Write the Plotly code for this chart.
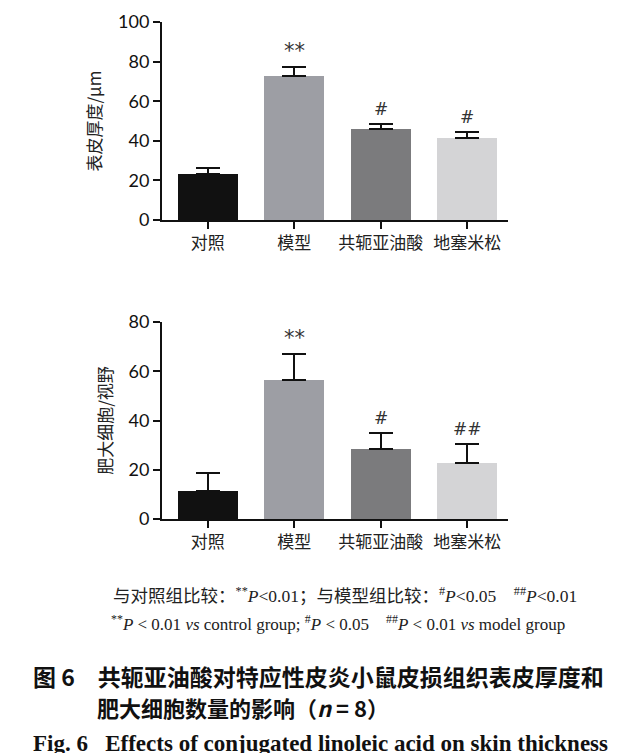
import plotly.graph_objects as go

# données
groupes = ["对照", "模型", "共轭亚油酸", "地塞米松"]
couleurs = ["#111111", "#9d9ea4", "#7b7b7d", "#d4d4d6"]

epaisseur = [23.2, 72.9, 45.8, 41.3]
epaisseur_sd = [3.0, 4.4, 2.5, 3.0]
epaisseur_sig = ["", "**", "#", "#"]

mastocytes = [11.2, 56.4, 28.6, 22.9]
mastocytes_sd = [7.4, 10.5, 6.5, 7.6]
mastocytes_sig = ["", "**", "#", "##"]

x_idx = list(range(len(groupes)))

W, H = 640.0, 753.0
DEC = 8  # marge du <body> de la page


def px(x):
    return (x - DEC) / W


def py(y):
    return 1 - (y - DEC) / H


fig = go.Figure()

def ajouter_barres(vals, sd, sig, xa, ya):
    fig.add_trace(go.Bar(
        x=x_idx, y=vals, width=0.695,
        marker=dict(color=couleurs, line=dict(width=0)),
        error_y=dict(type="data", array=sd, arrayminus=[0] * len(sd), symmetric=False,
                     color="#111111", thickness=2, width=12),
        xaxis=xa, yaxis=ya, showlegend=False,
    ))
    for i, s in enumerate(sig):
        if s:
            fig.add_annotation(x=i, y=vals[i] + sd[i], text=s, showarrow=False,
                               xref=xa, yref=ya, yanchor="bottom",
                               yshift=2 if s == "**" else 3,
                               font=dict(size=21 if s == "**" else 17, color="#333333",
                                         family="DejaVu Sans, sans-serif"))

ajouter_barres(epaisseur, epaisseur_sd, epaisseur_sig, "x", "y")
ajouter_barres(mastocytes, mastocytes_sd, mastocytes_sig, "x2", "y2")

axe_x = dict(range=[-0.53, 3.47], tickmode="array", tickvals=x_idx, ticktext=groupes,
             showline=True, linecolor="#111111", linewidth=2, ticks="outside",
             ticklen=7, tickwidth=2, tickcolor="#111111", showgrid=False, zeroline=False,
             automargin=False,
             tickfont=dict(size=17, color="#222222", family="Noto Sans CJK SC"),
             domain=[px(162), px(508)])
axe_y = dict(showline=True, linecolor="#111111", linewidth=2, ticks="outside",
             ticklen=7, tickwidth=2, tickcolor="#111111", showgrid=False, zeroline=False,
             automargin=False,
             tickfont=dict(size=18, color="#111111", family="Lato, sans-serif"))

fig.update_layout(
    width=W, height=H,
    margin=dict(l=0, r=0, t=0, b=0, autoexpand=False),
    paper_bgcolor="white", plot_bgcolor="white",
    bargap=0,
    xaxis=dict(axe_x, anchor="y"),
    xaxis2=dict(axe_x, anchor="y2"),
    yaxis=dict(axe_y, range=[0, 100], dtick=20, anchor="x",
               domain=[py(220), py(22)],
               title=dict(text="表皮厚度/μm", standoff=12,
                          font=dict(size=17, color="#222222", family="Noto Sans CJK SC"))),
    yaxis2=dict(axe_y, range=[0, 80], dtick=20, anchor="x2",
                domain=[py(519), py(322)],
                title=dict(text="肥大细胞/视野", standoff=12,
                           font=dict(size=17, color="#222222", family="Noto Sans CJK SC"))),
)

serif = "Liberation Serif, Noto Sans CJK SC"
note1 = ("与对照组比较：<sup>**</sup><i>P</i>&lt;0.01；与模型组比较：<sup>#</sup><i>P</i>&lt;0.05"
         "　<sup>##</sup><i>P</i>&lt;0.01")
note2 = ("<sup>**</sup><i>P</i> &lt; 0.01 <i>vs</i> control group; <sup>#</sup><i>P</i> &lt; 0.05"
         "　<sup>##</sup><i>P</i> &lt; 0.01 <i>vs</i> model group")
fig.add_annotation(x=px(111), y=py(595), xref="paper", yref="paper", text=note1,
                   showarrow=False, xanchor="left", yanchor="middle",
                   font=dict(size=17.5, color="#222222", family=serif))
fig.add_annotation(x=px(109), y=py(623), xref="paper", yref="paper", text=note2,
                   showarrow=False, xanchor="left", yanchor="middle",
                   font=dict(size=17, color="#222222", family=serif))

titre1 = "<b>图 6　共轭亚油酸对特应性皮炎小鼠皮损组织表皮厚度和</b>"
titre2 = "<b>肥大细胞数量的影响（<i>n</i> = 8）</b>"
titre3 = "<b>Fig. 6   Effects of conjugated linoleic acid on skin thickness</b>"
fig.add_annotation(x=px(31), y=py(676), xref="paper", yref="paper", text=titre1,
                   showarrow=False, xanchor="left", yanchor="middle",
                   font=dict(size=23, color="#111111", family="Noto Sans CJK SC"))
fig.add_annotation(x=px(95), y=py(707), xref="paper", yref="paper", text=titre2,
                   showarrow=False, xanchor="left", yanchor="middle",
                   font=dict(size=22, color="#111111", family="Noto Sans CJK SC"))
fig.add_annotation(x=px(31), y=py(729), xref="paper", yref="paper", text=titre3,
                   showarrow=False, xanchor="left", yanchor="top",
                   font=dict(size=23, color="#111111", family="Liberation Serif"))

fig.write_html("out.html")
